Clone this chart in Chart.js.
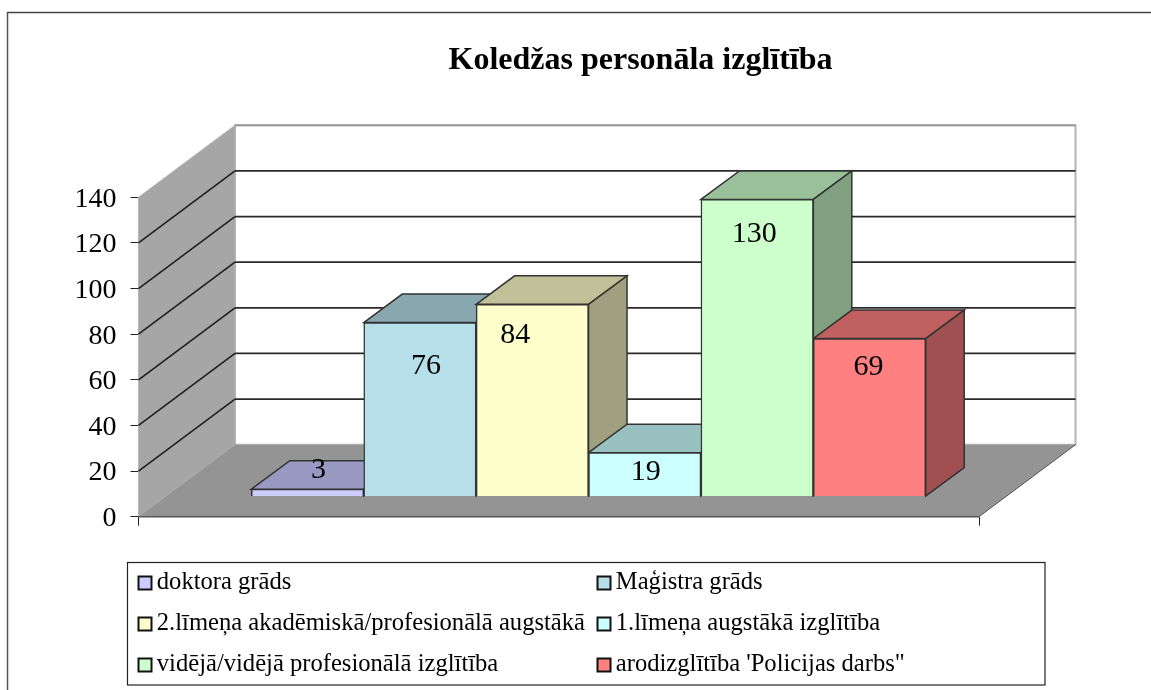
<!DOCTYPE html>
<html lang="lv">
<head>
<meta charset="utf-8">
<title>Koledžas personāla izglītība</title>
<script src="https://cdn.jsdelivr.net/npm/chart.js@4"></script>
<style>
  html, body { margin: 0; background: #fff; }
  canvas { display: block; }
</style>
</head>
<body>
<canvas id="grafiks" width="1151" height="690"></canvas>
<script>
const chartTitle = 'Koledžas personāla izglītība';
const categories = [
  'doktora grāds',
  'Maģistra grāds',
  '2.līmeņa akadēmiskā/profesionālā augstākā',
  '1.līmeņa augstākā izglītība',
  'vidējā/vidējā profesionālā izglītība',
  "arodizglītība 'Policijas darbs\""
];
const values = [3, 76, 84, 19, 130, 69];
const yTicks = [0, 20, 40, 60, 80, 100, 120, 140];

const frontColors = ['#ccccff', '#b7dfe9', '#ffffcc', '#ccffff', '#ccffcc', '#ff8080'];
const topColors = ['#9999c4', '#89a7ae', '#c0c099', '#99c0c0', '#99c099', '#c06060'];
const sideColors = ['#8080a0', '#728b92', '#a0a080', '#80a0a0', '#80a080', '#a05050'];

const serif = '"Liberation Serif", "Times New Roman", serif';

// labels were dragged by hand in the original, so they sit off centre
const labelNudgeX = [11, 6, -17, 1, -3, -1];
const labelNudgeY = [-19, 44, 31, 19, 35, 29];

const wallDx = 96.5, wallDy = -72;
const barDx = 38.5, barDy = -28.5;

function poly(ctx, pts, fill, stroke, lw) {
  ctx.beginPath();
  pts.forEach((p, i) => i ? ctx.lineTo(p[0], p[1]) : ctx.moveTo(p[0], p[1]));
  ctx.closePath();
  ctx.fillStyle = fill;
  ctx.fill();
  if (stroke) {
    ctx.strokeStyle = stroke;
    ctx.lineWidth = lw || 1;
    ctx.stroke();
  }
}

function line(ctx, x1, y1, x2, y2, color, lw) {
  ctx.beginPath();
  ctx.moveTo(x1, y1);
  ctx.lineTo(x2, y2);
  ctx.strokeStyle = color;
  ctx.lineWidth = lw;
  ctx.stroke();
}

const box3d = {
  id: 'box3d',
  beforeDraw(chart) {
    const ctx = chart.ctx;
    // outer frame of the page, open on the right and at the bottom
    line(ctx, 7.5, 690, 7.5, 12.5, '#555', 1.5);
    line(ctx, 7, 12.5, 1151, 12.5, '#444', 1.5);
  },
  beforeDatasetsDraw(chart) {
    const ctx = chart.ctx;
    const a = chart.chartArea;
    const y = chart.scales.y;
    const l = a.left, r = a.right, t = a.top, b = a.bottom;

    ctx.save();
    // back wall
    poly(ctx, [[l + wallDx, t + wallDy], [r + wallDx, t + wallDy], [r + wallDx, b + wallDy], [l + wallDx, b + wallDy]], '#fff', '#b4b4b4', 2);
    // side wall
    poly(ctx, [[l, t], [l + wallDx, t + wallDy], [l + wallDx, b + wallDy], [l, b]], '#a6a6a6', '#b4b4b4', 1);
    // floor
    poly(ctx, [[l, b], [l + wallDx, b + wallDy], [r + wallDx, b + wallDy], [r, b]], '#949494');
    line(ctx, l, b, r, b, '#555', 1.5);
    line(ctx, r, b, r + wallDx, b + wallDy, '#555', 1);

    yTicks.forEach(v => {
      if (v === 0) return;
      const p = y.getPixelForValue(v);
      const c = v === 140 ? '#999' : '#2a2a2a';
      line(ctx, l + wallDx, p + wallDy, r + wallDx, p + wallDy, c, 1.7);
      if (v !== 140) line(ctx, l, p, l + wallDx, p + wallDy, '#222', 1.7);
    });

    // tops and sides of the bars, left to right so that later ones cover earlier ones
    chart.getDatasetMeta(0).data.forEach((bar, i) => {
      const x0 = bar.x - bar.width / 2, x1 = bar.x + bar.width / 2;
      poly(ctx, [[x0, bar.y], [x0 + barDx, bar.y + barDy], [x1 + barDx, bar.y + barDy], [x1, bar.y]], topColors[i], '#333', 1.5);
      poly(ctx, [[x1, bar.y], [x1 + barDx, bar.y + barDy], [x1 + barDx, bar.base + barDy], [x1, bar.base]], sideColors[i], '#333', 1.5);
    });
    ctx.restore();
  },
  afterDatasetsDraw(chart) {
    const ctx = chart.ctx;
    ctx.save();
    ctx.font = '30px ' + serif;
    ctx.fillStyle = '#000';
    ctx.textAlign = 'center';
    ctx.textBaseline = 'middle';
    chart.getDatasetMeta(0).data.forEach((bar, i) => {
      ctx.fillText(String(values[i]), bar.x + labelNudgeX[i], bar.y + labelNudgeY[i]);
    });
    ctx.restore();
  },
  afterDraw(chart) {
    const ctx = chart.ctx;
    ctx.save();
    ctx.fillStyle = '#fff';
    ctx.strokeStyle = '#222';
    ctx.lineWidth = 1.2;
    ctx.fillRect(127.5, 562.5, 917.5, 122.5);
    ctx.strokeRect(127.5, 562.5, 917.5, 122.5);

    const colX = [138.5, 597.5];
    const rowY = [583, 624, 665];
    ctx.font = '24.6px ' + serif;
    ctx.textBaseline = 'middle';
    categories.forEach((name, i) => {
      const cx = colX[i % 2];
      const cy = rowY[Math.floor(i / 2)];
      ctx.fillStyle = frontColors[i];
      ctx.fillRect(cx, cy - 6.5, 13, 13);
      ctx.strokeStyle = '#111';
      ctx.lineWidth = 2;
      ctx.strokeRect(cx, cy - 6.5, 13, 13);
      ctx.fillStyle = '#000';
      ctx.fillText(name, cx + 18.3, cy);
    });
    ctx.restore();
  }
};

new Chart(document.getElementById('grafiks').getContext('2d'), {
  type: 'bar',
  data: {
    labels: categories,
    datasets: [{
      label: chartTitle,
      data: values.map((v, i) => ({ x: i, y: v })),
      yAxisID: 'yBars',
      backgroundColor: frontColors,
      borderColor: '#333',
      borderWidth: 1.5,
      categoryPercentage: 1,
      barPercentage: 1
    }]
  },
  options: {
    responsive: false,
    animation: false,
    // negative right padding moves the centre of the full-width title to the right
    layout: { padding: { left: 0, right: -130, top: 0, bottom: 173.3 } },
    plugins: {
      legend: { display: false },
      tooltip: { enabled: false },
      title: {
        display: true,
        text: chartTitle,
        color: '#000',
        font: { family: serif, size: 32, weight: 'bold', lineHeight: 1.2 },
        padding: { top: 42, bottom: 116.9 }
      }
    },
    scales: {
      x: {
        type: 'linear',
        offset: false,
        min: -1.504,
        max: 5.974,
        grid: { offset: false, drawOnChartArea: false, color: '#222', tickLength: 9 },
        border: { display: false },
        ticks: { callback: () => '' },
        afterBuildTicks(s) { s.ticks = [{ value: s.min }, { value: s.max }]; },
        afterFit(s) { s.height = 0; }
      },
      y: {
        position: 'left',
        min: 0,
        max: 140,
        afterBuildTicks(s) { s.ticks = yTicks.map(v => ({ value: v })); },
        grid: { drawOnChartArea: false, color: '#222', tickLength: 8 },
        border: { display: true, color: '#222', width: 1.5 },
        ticks: { color: '#000', padding: 14, labelOffset: 2, font: { family: serif, size: 28 } },
        afterFit(s) { s.width = 138.5; }
      },
      // same pixels per unit as y, but its zero stands where the bars touch the floor
      yBars: {
        position: 'right',
        min: -9.07,
        max: 130.93,
        grid: { display: false },
        border: { display: false },
        ticks: { display: false },
        afterFit(s) { s.width = 302; }
      }
    }
  },
  plugins: [box3d]
});
</script>
</body>
</html>
